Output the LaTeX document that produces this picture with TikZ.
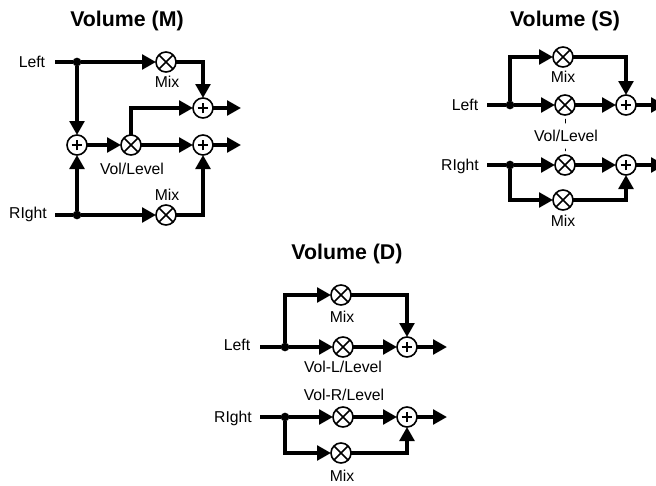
\documentclass[tikz,border=0pt]{standalone}
\usepackage{fontspec}
\setmainfont{Liberation Sans}
\usetikzlibrary{arrows.meta}
\tikzset{
  wire/.style={line width=2.7pt,-{Triangle[length=10.5pt,width=11pt]}},
  plainwire/.style={line width=2.7pt},
  circ/.style={circle,draw,line width=1.2pt,fill=white,minimum size=15pt,inner sep=0pt,outer sep=0pt},
  mixer/.style={circ,path picture={\draw[line width=1.2pt]
    (path picture bounding box.north west)--(path picture bounding box.south east)
    (path picture bounding box.north east)--(path picture bounding box.south west);}},
  adder/.style={circ,path picture={\draw[line width=1.2pt]
    ([xshift=-4pt]path picture bounding box.center)--([xshift=4pt]path picture bounding box.center)
    ([yshift=-4pt]path picture bounding box.center)--([yshift=4pt]path picture bounding box.center);}},
  junction/.style={circle,fill=black,minimum size=6.5pt,inner sep=0pt,outer sep=0pt},
  lab/.style={font=\fontsize{11.8pt}{13pt}\selectfont,inner sep=0pt},
  ttl/.style={font=\fontsize{16pt}{18pt}\selectfont\bfseries,inner sep=0pt},
  tick/.style={line width=0.6pt}
}
\begin{document}
\begin{tikzpicture}[x=0.75pt,y=-0.75pt]
\clip (0,0) rectangle (656,485);
\fill[white] (0,0) rectangle (656,485);

% ---------- Volume (M)
\node[ttl] (mt) at (127,21) {Volume (M)};
\node[lab] (ml) at (32,62) {Left};
\node[lab] (mr) at (28,214) {RIght};
\coordinate (mls) at (55,62);
\coordinate (mrs) at (55,215);
\node[mixer] (mm1) at (166,62) {};
\node[mixer] (mm2) at (166,215) {};
\node[adder] (ma) at (77,145) {};
\node[mixer] (mv) at (131,145) {};
\node[adder] (ms1) at (203,108) {};
\node[adder] (ms2) at (203,145) {};
\coordinate (mo1) at (241,108);
\coordinate (mo2) at (241,145);
\node[junction] (mdl) at (77,62) {};
\node[junction] (mdr) at (77,215) {};
\node[lab] at (167,82) {Mix};
\node[lab] at (167,195) {Mix};
\node[lab] at (132,169) {Vol/Level};
\draw[plainwire] (mls) -- (mdl);
\draw[plainwire] (mrs) -- (mdr);
\draw[wire] (mdl) -- (mm1);
\draw[wire] (mdr) -- (mm2);
\draw[wire] (mdl) -- (ma);
\draw[wire] (mdr) -- (ma);
\draw[wire] (ma) -- (mv);
\draw[wire] (mm1) -| (ms1);
\draw[wire] (mm2) -| (ms2);
\draw[wire] (mv) |- (ms1);
\draw[wire] (mv) -- (ms2);
\draw[wire] (ms1) -- (mo1);
\draw[wire] (ms2) -- (mo2);

% ---------- Volume (S)
\node[ttl] (st) at (565,21) {Volume (S)};
\node[lab] (sl) at (465,105) {Left};
\node[lab] (sr) at (460,166) {RIght};
\coordinate (sls) at (487,105);
\coordinate (srs) at (487,165);
\node[junction] (sdl) at (510,105) {};
\node[junction] (sdr) at (510,165) {};
\node[mixer] (sm1) at (563,57) {};
\node[mixer] (sm2) at (565,105) {};
\node[mixer] (sm3) at (565,165) {};
\node[mixer] (sm4) at (563,200) {};
\node[adder] (ss1) at (626,105) {};
\node[adder] (ss2) at (626,165) {};
\coordinate (so1) at (665,105);
\coordinate (so2) at (665,165);
\node[lab] at (563,77) {Mix};
\node[lab] at (563,221) {Mix};
\node[lab] (sv) at (566,136) {Vol/Level};
\draw[plainwire] (sls) -- (sdl);
\draw[plainwire] (srs) -- (sdr);
\draw[wire] (sdl) |- (sm1);
\draw[wire] (sdl) -- (sm2);
\draw[wire] (sdr) -- (sm3);
\draw[wire] (sdr) |- (sm4);
\draw[wire] (sm1) -| (ss1);
\draw[wire] (sm4) -| (ss2);
\draw[wire] (sm2) -- (ss1);
\draw[wire] (sm3) -- (ss2);
\draw[wire] (ss1) -- (so1);
\draw[wire] (ss2) -- (so2);
\draw[tick,shorten <=3pt,shorten >=5pt] (sm2) -- (sv);
\draw[tick,shorten <=3pt,shorten >=5pt] (sm3) -- (sv);

% ---------- Volume (D)
\node[ttl] (dt) at (347,254) {Volume (D)};
\node[lab] (dl) at (237,345) {Left};
\node[lab] (dr) at (233,418) {RIght};
\coordinate (dls) at (260,347);
\coordinate (drs) at (260,417);
\node[junction] (ddl) at (285,347) {};
\node[junction] (ddr) at (285,417) {};
\node[mixer] (dm1) at (341,295) {};
\node[mixer] (dm2) at (343,347) {};
\node[mixer] (dm3) at (343,417) {};
\node[mixer] (dm4) at (341,453) {};
\node[adder] (ds1) at (407,347) {};
\node[adder] (ds2) at (407,417) {};
\coordinate (do1) at (447,347);
\coordinate (do2) at (447,417);
\node[lab] at (342,317) {Mix};
\node[lab] at (342,476) {Mix};
\node[lab] at (343,367) {Vol-L/Level};
\node[lab] at (344,395) {Vol-R/Level};
\draw[plainwire] (dls) -- (ddl);
\draw[plainwire] (drs) -- (ddr);
\draw[wire] (ddl) |- (dm1);
\draw[wire] (ddl) -- (dm2);
\draw[wire] (ddr) -- (dm3);
\draw[wire] (ddr) |- (dm4);
\draw[wire] (dm1) -| (ds1);
\draw[wire] (dm4) -| (ds2);
\draw[wire] (dm2) -- (ds1);
\draw[wire] (dm3) -- (ds2);
\draw[wire] (ds1) -- (do1);
\draw[wire] (ds2) -- (do2);
\end{tikzpicture}
\end{document}
